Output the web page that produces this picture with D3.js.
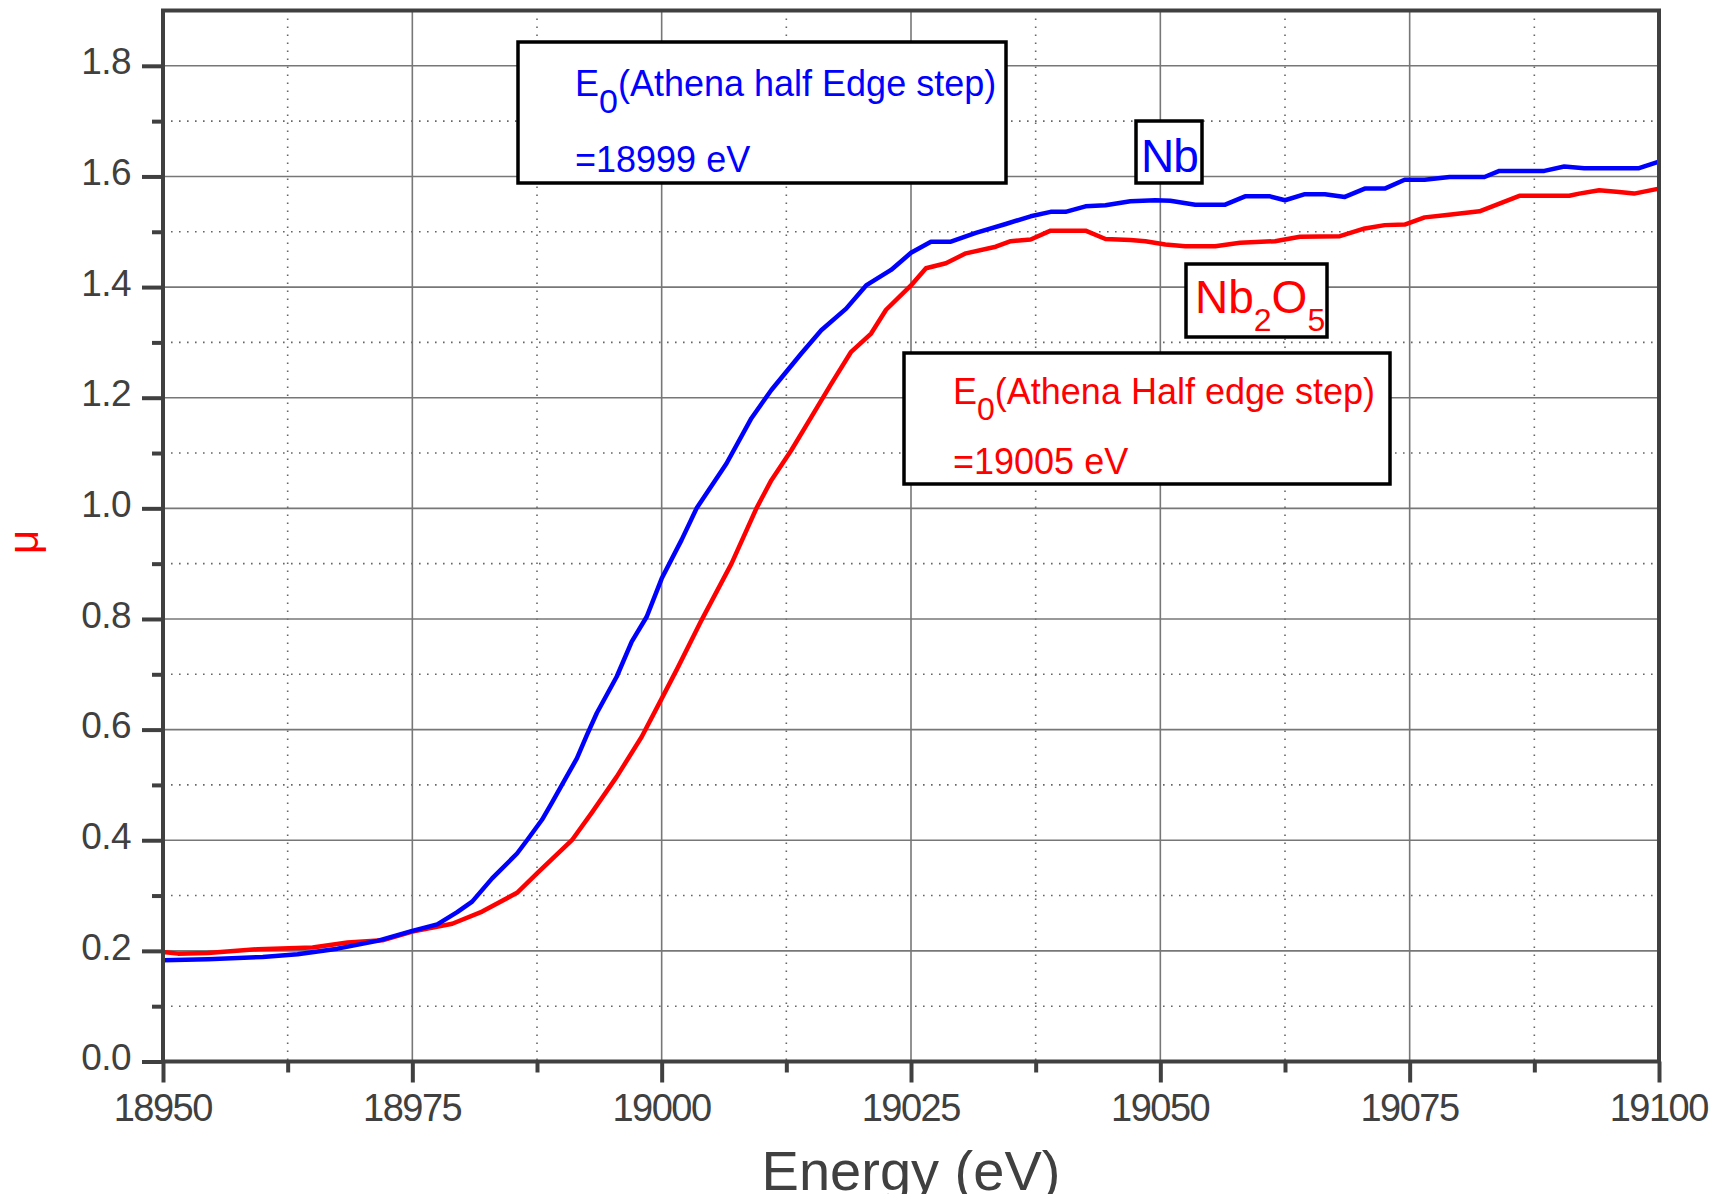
<!DOCTYPE html>
<html>
<head>
<meta charset="utf-8">
<script src="https://cdn.jsdelivr.net/npm/d3@7"></script>
<style>
  html, body { margin: 0; padding: 0; background: #fff; }
  svg { display: block; font-family: Arial, 'Liberation Sans', sans-serif; }
</style>
</head>
<body>
<svg id="chart" width="1720" height="1194"></svg>
<script>
// Nb foil (blue) and Nb2O5 (red) XANES
const nbEnergy = [18950, 18954.5, 18960, 18963.5, 18967.5, 18971.5, 18975, 18977.5, 18979.5, 18981,
  18983, 18985.5, 18986.5, 18988, 18989, 18990, 18991.5, 18992.5, 18993.5, 18995.5,
  18997, 18998.5, 19000, 19002, 19003.5, 19006.5, 19009, 19011, 19012.5, 19014,
  19016, 19018.5, 19020.5, 19023, 19025, 19027, 19029, 19031.5, 19034.5, 19037,
  19039, 19040.5, 19042.5, 19044.5, 19047, 19049.5, 19051, 19053.5, 19056.5, 19058.5,
  19061, 19062.5, 19064.5, 19066.5, 19068.5, 19070.5, 19072.5, 19074.5, 19076.5, 19079,
  19082.5, 19084, 19088.5, 19090.5, 19092.5, 19098, 19100];
const nbMu = [0.183, 0.185, 0.189, 0.194, 0.204, 0.218, 0.236, 0.248, 0.270, 0.289,
  0.331, 0.376, 0.400, 0.437, 0.468, 0.500, 0.548, 0.590, 0.630, 0.696,
  0.759, 0.804, 0.873, 0.943, 1.000, 1.081, 1.163, 1.214, 1.247, 1.280,
  1.322, 1.361, 1.403, 1.431, 1.462, 1.482, 1.482, 1.498, 1.514, 1.528,
  1.536, 1.536, 1.546, 1.548, 1.555, 1.557, 1.556, 1.549, 1.549, 1.564,
  1.564, 1.557, 1.568, 1.568, 1.563, 1.578, 1.578, 1.594, 1.594, 1.599,
  1.599, 1.610, 1.610, 1.618, 1.615, 1.615, 1.627];

const oxEnergy = [18950, 18951.5, 18954.5, 18959.5, 18965, 18968.5, 18972, 18975, 18979, 18982,
  18985.5, 18987.5, 18991, 18993, 18995.5, 18998, 19000, 19001.5, 19004,
  19007, 19009.5, 19011, 19013, 19015, 19017, 19019, 19021,
  19022.5, 19025, 19026.5, 19028.5, 19030.5, 19033.5, 19035, 19037, 19039, 19042.5,
  19044.5, 19047, 19048.5, 19050.5, 19052.5, 19055.5, 19058, 19061.5, 19064, 19068,
  19070.5, 19072.5, 19074.5, 19076.5, 19078.5, 19082, 19084, 19086, 19091, 19092,
  19094, 19096, 19097.5, 19100];
const oxMu = [0.198, 0.195, 0.196, 0.203, 0.206, 0.215, 0.219, 0.235, 0.249, 0.271,
  0.305, 0.340, 0.400, 0.450, 0.515, 0.587, 0.656, 0.708, 0.798,
  0.900, 1.000, 1.051, 1.105, 1.165, 1.225, 1.283, 1.316,
  1.359, 1.403, 1.434, 1.443, 1.461, 1.473, 1.483, 1.486, 1.502, 1.502,
  1.487, 1.485, 1.483, 1.477, 1.474, 1.474, 1.480, 1.483, 1.491, 1.492,
  1.506, 1.512, 1.513, 1.526, 1.530, 1.537, 1.551, 1.565, 1.565, 1.569,
  1.575, 1.572, 1.569, 1.578];

const xMajorTicks = [18950, 18975, 19000, 19025, 19050, 19075, 19100];
const xMinorTicks = [18962.5, 18987.5, 19012.5, 19037.5, 19062.5, 19087.5];
const yMajorTicks = [0, 0.2, 0.4, 0.6, 0.8, 1.0, 1.2, 1.4, 1.6, 1.8];
const yMinorTicks = [0.1, 0.3, 0.5, 0.7, 0.9, 1.1, 1.3, 1.5, 1.7];

const xTitle = 'Energy (eV)';
const yTitle = 'μ';

const plotLeft = 163, plotRight = 1659, plotTop = 10.5, plotBottom = 1061.5;
const axisColor = '#404040';

const svg = d3.select('#chart');
svg.append('rect').attr('width', 1720).attr('height', 1194).attr('fill', '#fff');

const x = d3.scaleLinear().domain([18950, 19100]).range([plotLeft, plotRight]);
const y = d3.scaleLinear().domain([0, 1.9]).range([plotBottom, plotTop]);

// grid
let grid = svg.append('g');
grid.selectAll('.hmin').data(yMinorTicks).join('line')
  .attr('x1', plotLeft).attr('x2', plotRight)
  .attr('y1', (d) => y(d)).attr('y2', (d) => y(d))
  .attr('stroke', '#666').attr('stroke-width', 1.6).attr('stroke-dasharray', '1.6,6.4');
grid.selectAll('.vmin').data(xMinorTicks).join('line')
  .attr('x1', (d) => x(d)).attr('x2', (d) => x(d))
  .attr('y1', plotTop).attr('y2', plotBottom)
  .attr('stroke', '#666').attr('stroke-width', 1.6).attr('stroke-dasharray', '1.6,6.4');
grid.selectAll('.hmaj').data(yMajorTicks.filter((d) => d > 0)).join('line')
  .attr('x1', plotLeft).attr('x2', plotRight)
  .attr('y1', (d) => y(d)).attr('y2', (d) => y(d))
  .attr('stroke', '#777').attr('stroke-width', 1.6);
grid.selectAll('.vmaj').data(xMajorTicks.slice(1, -1)).join('line')
  .attr('x1', (d) => x(d)).attr('x2', (d) => x(d))
  .attr('y1', plotTop).attr('y2', plotBottom)
  .attr('stroke', '#777').attr('stroke-width', 1.6);

// curves
const line = d3.line().x((d) => x(d[0])).y((d) => y(d[1]));
const series = [
  { e: oxEnergy, mu: oxMu, color: '#ff0000' },
  { e: nbEnergy, mu: nbMu, color: '#0000ff' },
];
series.forEach((s) => {
  svg.append('path')
    .datum(s.e.map((e, i) => [e, s.mu[i]]))
    .attr('d', line)
    .attr('fill', 'none')
    .attr('stroke', s.color)
    .attr('stroke-width', 4.5)
    .attr('stroke-linejoin', 'round');
});

// axes
function styleAxis(g) {
  g.select('.domain').remove();
  g.selectAll('line').attr('stroke', axisColor).attr('stroke-width', 4);
  g.selectAll('text').attr('fill', axisColor);
}

svg.append('g').attr('transform', `translate(0,${plotBottom})`)
  .call(d3.axisBottom(x).tickValues(xMinorTicks).tickSize(11).tickFormat(''))
  .call(styleAxis);
svg.append('g').attr('transform', `translate(0,${plotBottom})`)
  .call(d3.axisBottom(x).tickValues(xMajorTicks).tickSize(21).tickPadding(12).tickFormat(d3.format('d')))
  .call(styleAxis)
  .call((g) => g.selectAll('text')
    .attr('font-size', 38).attr('letter-spacing', '-1.5px').attr('dx', '-0.7px'));

svg.append('g').attr('transform', `translate(${plotLeft},0)`)
  .call(d3.axisLeft(y).tickValues(yMinorTicks).tickSize(11).tickFormat(''))
  .call(styleAxis);
svg.append('g').attr('transform', `translate(${plotLeft},0)`)
  .call(d3.axisLeft(y).tickValues(yMajorTicks).tickSize(21).tickPadding(11).tickFormat(d3.format('.1f')))
  .call(styleAxis)
  .call((g) => g.selectAll('text')
    .attr('font-size', 37).attr('dy', '0.22em').attr('letter-spacing', '-0.6px'));

// frame
svg.append('rect')
  .attr('x', plotLeft).attr('y', plotTop)
  .attr('width', plotRight - plotLeft).attr('height', plotBottom - plotTop)
  .attr('fill', 'none').attr('stroke', axisColor).attr('stroke-width', 4);

// axis titles
svg.append('text')
  .attr('x', (plotLeft + plotRight) / 2).attr('y', 1190)
  .attr('text-anchor', 'middle')
  .attr('font-size', 56).attr('fill', axisColor)
  .text(xTitle);
svg.append('text')
  .attr('transform', 'translate(38,542) rotate(-90)')
  .attr('text-anchor', 'middle')
  .attr('font-size', 42).attr('fill', '#ff0000')
  .text(yTitle);

// annotation boxes
function box(x0, y0, x1, y1) {
  svg.append('rect')
    .attr('x', x0).attr('y', y0).attr('width', x1 - x0).attr('height', y1 - y0)
    .attr('fill', '#fff').attr('stroke', '#000').attr('stroke-width', 3.5);
}

function e0Label(tx, ty1, ty2, color, rest, value, size, subSize, shift) {
  const t = svg.append('text').attr('x', tx).attr('y', ty1)
    .attr('fill', color).attr('font-size', size);
  t.append('tspan').text('E');
  t.append('tspan').attr('dy', shift).attr('font-size', subSize).text('0');
  t.append('tspan').attr('dy', -shift).text(rest);
  svg.append('text').attr('x', tx).attr('y', ty2)
    .attr('fill', color).attr('font-size', size).text(value);
}

box(518, 42, 1006, 183);
e0Label(575, 96, 172, '#0000ff', '(Athena half Edge step)', '=18999 eV', 36, 34, 17);

box(904, 353, 1390, 484);
e0Label(953, 404, 474, '#ff0000', '(Athena Half edge step)', '=19005 eV', 36, 32, 16);

box(1136, 121, 1202, 183);
svg.append('text').attr('x', 1141).attr('y', 172)
  .attr('fill', '#0000ff').attr('font-size', 46).attr('letter-spacing', '-1px').text('Nb');

box(1186, 264, 1327, 337);
const ox = svg.append('text').attr('x', 1195).attr('y', 313)
  .attr('fill', '#ff0000').attr('font-size', 46);
ox.append('tspan').text('Nb');
ox.append('tspan').attr('dy', 18).attr('font-size', 32).text('2');
ox.append('tspan').attr('dy', -18).text('O');
ox.append('tspan').attr('dy', 18).attr('font-size', 32).text('5');
</script>
</body>
</html>
